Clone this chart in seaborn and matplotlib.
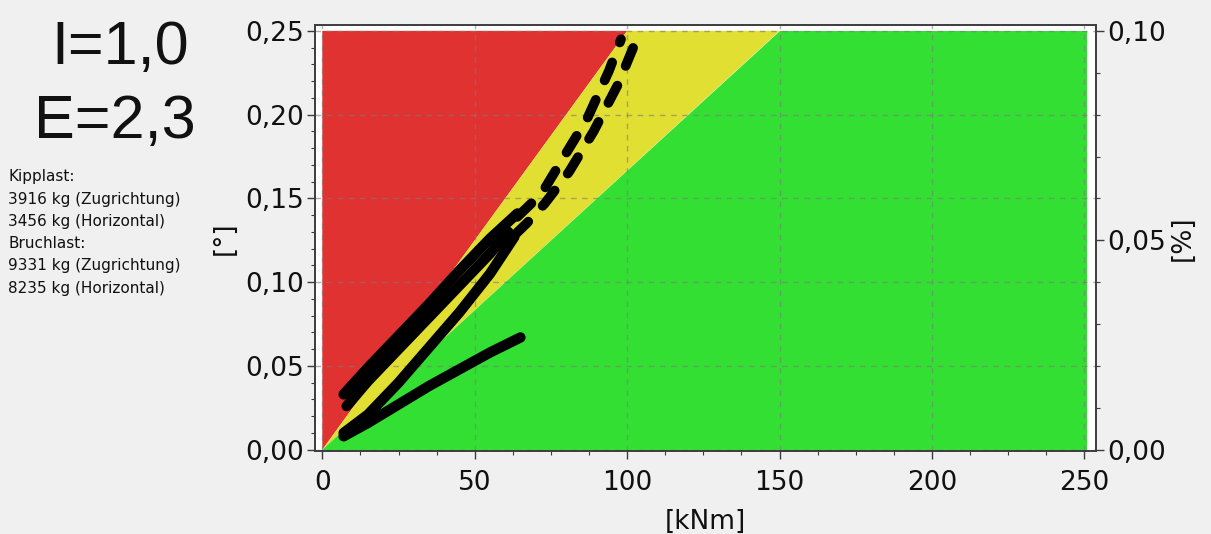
import numpy as np
import pandas as pd
import matplotlib
matplotlib.use("Agg")
import matplotlib.pyplot as plt
from matplotlib.ticker import FuncFormatter, MultipleLocator
import seaborn as sns

# ---------------- data ----------------
# zone limits (kNm at the top edge of the chart, y = 0.25 °)
zone_red_yellow_x = 100.0
zone_yellow_green_x = 150.0
zone_xmax = 251.0
zone_ymax = 0.25

upper1_x = [7, 15, 25, 35, 45, 55, 64]
upper1_y = [0.033, 0.049, 0.068, 0.087, 0.107, 0.126, 0.141]
upper2_x = [8, 15, 25, 35, 45, 55, 61]
upper2_y = [0.026, 0.041, 0.060, 0.079, 0.098, 0.117, 0.130]
lower_x = [7, 15, 25, 35, 45, 55, 63]
lower_y = [0.010, 0.021, 0.040, 0.061, 0.082, 0.105, 0.127]
branch_x = [7, 15, 25, 35, 45, 55, 65]
branch_y = [0.008, 0.016, 0.027, 0.038, 0.048, 0.058, 0.067]
dash_left_x = [64, 72, 79, 87, 94, 98]
dash_left_y = [0.139, 0.153, 0.174, 0.198, 0.226, 0.245]
dash_right_x = [63, 67, 73, 81, 89, 97, 102]
dash_right_y = [0.128, 0.135, 0.147, 0.166, 0.190, 0.218, 0.240]

x_ticks = [0, 50, 100, 150, 200, 250]
y_ticks = [0.00, 0.05, 0.10, 0.15, 0.20, 0.25]
y2_ticks = [0.00, 0.05, 0.10]

info_lines = ["Kipplast:", "3916 kg (Zugrichtung)", "3456 kg (Horizontal)",
              "Bruchlast:", "9331 kg (Zugrichtung)", "8235 kg (Horizontal)"]

# ---------------- style ----------------
sns.set_theme(style="ticks")
plt.rcParams['font.family'] = ['DejaVu Sans']

BG = "#f0f0f0"
RED = "#e13232"
YELLOW = "#e1df32"
GREEN = "#32df32"
FRAME = "#3c3c3c"
TXT = "#111111"

fig = plt.figure(figsize=(12.11, 5.34), dpi=100, facecolor=BG)
ax = fig.add_axes([0.2601, 0.1554, 0.6449, 0.7978])
ax.set_facecolor("white")

# zones
ry = zone_ymax
ax.fill([0, zone_red_yellow_x, 0], [0, ry, ry], color=RED, lw=0, zorder=1)
ax.fill([0, zone_yellow_green_x, zone_red_yellow_x], [0, ry, ry], color=YELLOW, lw=0, zorder=1)
ax.fill([0, zone_xmax, zone_xmax, zone_yellow_green_x], [0, 0, ry, ry], color=GREEN, lw=0, zorder=1)

# measured curves
solid_sets = [(upper1_x, upper1_y), (upper2_x, upper2_y), (lower_x, lower_y), (branch_x, branch_y)]
for xs, ys in solid_sets:
    df = pd.DataFrame({"x": xs, "y": ys})
    sns.lineplot(data=df, x="x", y="y", sort=False, estimator=None, ax=ax,
                 color="black", lw=7.5, solid_capstyle="round", solid_joinstyle="round", zorder=3)

for xs, ys in [(dash_left_x, dash_left_y), (dash_right_x, dash_right_y)]:
    df = pd.DataFrame({"x": xs, "y": ys})
    sns.lineplot(data=df, x="x", y="y", sort=False, estimator=None, ax=ax,
                 color="black", lw=7, zorder=3)
    line = ax.lines[-1]
    line.set_dashes((2.0, 2.2))
    line.set_dash_capstyle("round")

ax.set_xlim(-2.4, 253.8)
ax.set_ylim(-0.0008, 0.2535)

ax.set_xticks(x_ticks)
ax.set_yticks(y_ticks)
ax.xaxis.set_minor_locator(MultipleLocator(12.5))
ax.yaxis.set_minor_locator(MultipleLocator(0.01))
ax.xaxis.set_major_formatter(FuncFormatter(lambda v, p: f"{v:.0f}"))
ax.yaxis.set_major_formatter(FuncFormatter(lambda v, p: f"{v:.2f}".replace(".", ",")))

ax.set_axisbelow("line")
ax.grid(True, which="major", color="#7a7a7a", alpha=0.6, linestyle=(0, (4, 4)), lw=1.0)

for s in ax.spines.values():
    s.set_color(FRAME)
    s.set_linewidth(1.2)
    s.set_visible(True)

ax.tick_params(axis="both", which="major", length=6, width=1, color=FRAME,
               labelsize=19, labelcolor=TXT, pad=2)
ax.tick_params(axis="x", which="major", pad=8)
ax.tick_params(axis="both", which="minor", length=3, width=0.8, color=FRAME)

ax.set_xlabel("[kNm]", fontsize=19, color=TXT, labelpad=9)
ax.set_ylabel("[°]", fontsize=19, color=TXT, labelpad=5)

ax2 = ax.twinx()
ax2.set_ylim(-0.0008 * 0.4, 0.2535 * 0.4)
ax2.set_yticks(y2_ticks)
ax2.yaxis.set_minor_locator(MultipleLocator(0.01))
ax2.yaxis.set_major_formatter(FuncFormatter(lambda v, p: f"{v:.2f}".replace(".", ",")))
ax2.tick_params(axis="y", which="major", length=6, width=1, color=FRAME,
                labelsize=19, labelcolor=TXT, pad=2)
ax2.tick_params(axis="y", which="minor", length=3, width=0.8, color=FRAME)
ax2.set_ylabel("[%]", fontsize=19, color=TXT, labelpad=3)
ax2.grid(False)
for s in ax2.spines.values():
    s.set_color(FRAME)
    s.set_linewidth(1.2)

# left texts
fig.text(120 / 1211, 1 - 48 / 534, "I=1,0", fontsize=44, family="Liberation Sans",
         ha="center", va="center", color=TXT)
fig.text(115 / 1211, 1 - 122 / 534, "E=2,3", fontsize=44, family="Liberation Sans",
         ha="center", va="center", color=TXT)
for i, t in enumerate(info_lines):
    fig.text(8 / 1211, 1 - (177 + 22.2 * i) / 534, t, fontsize=11,
             ha="left", va="center", color=TXT)

fig.savefig("out.png", dpi=100, facecolor=BG)
